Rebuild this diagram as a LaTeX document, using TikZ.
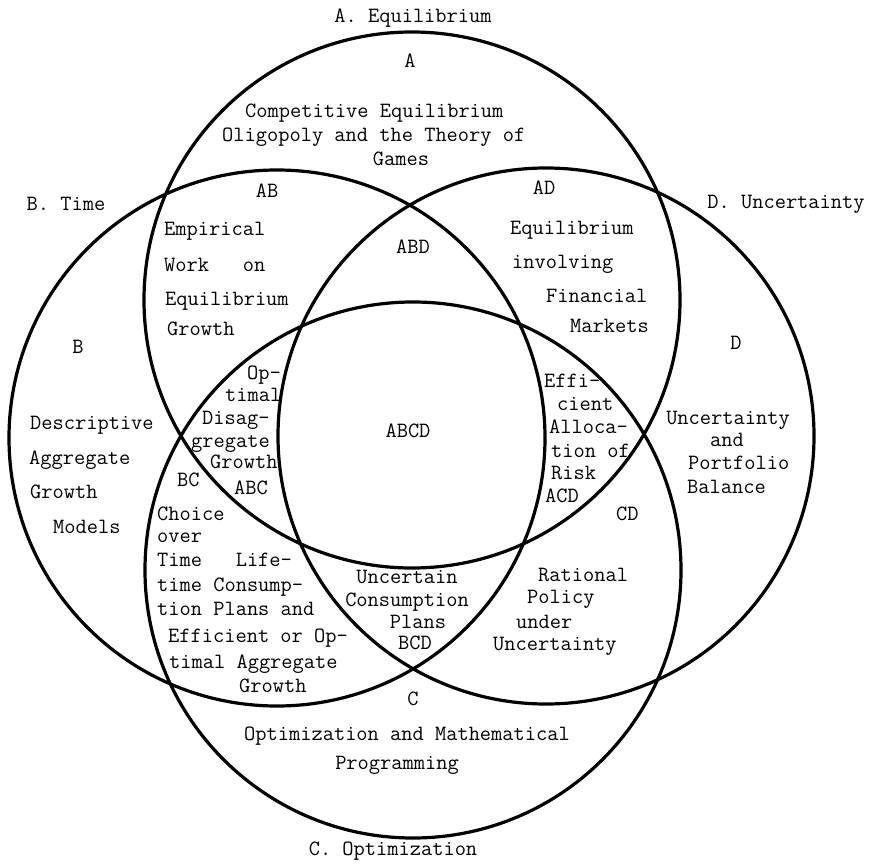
\documentclass[tikz,border=0pt]{standalone}
\usepackage{fontspec}
\begin{document}
\begin{tikzpicture}[x=1pt, y=-1pt,
    ring/.style={line width=3.2pt},
    txt/.style={font=\ttfamily\fontsize{21.8}{26}\selectfont, inner sep=0pt, anchor=base west},
    mid/.style={txt, anchor=base}]
    \useasboundingbox (0,0) rectangle (876,864);
    % centres of the four sets
    \coordinate (cA) at (412,300);
    \coordinate (cB) at (277,438);
    \coordinate (cC) at (413,570);
    \coordinate (cD) at (546,436);
    \draw [ring] (cA) circle (268pt);
    \draw [ring] (cB) circle (268pt);
    \draw [ring] (cC) circle (268pt);
    \draw [ring] (cD) circle (268pt);
    % set titles
    \node [mid] (titleA) at (413,23) {A. Equilibrium};
    \node [mid] (titleB) at (66,211) {B. Time};
    \node [mid] (titleD) at (786,208) {D. Uncertainty};
    \node [mid] (titleC) at (393,855) {C. Optimization};
    % A only
    \node [mid] (labA) at (410,68) {A};
    \node [txt] (a1) at (245,118) {Competitive Equilibrium};
    \node [txt] (a2) at (222,142) {Oligopoly and the Theory of};
    \node [mid] (a3) at (401,166) {Games};
    % AB
    \node [mid] (labAB) at (267,197) {AB};
    \node [txt] (ab1) at (164,236) {Empirical};
    \node [txt] (ab2) at (164,271) {Work\ \ \ on};
    \node [txt] (ab3) at (165,305) {Equilibrium};
    \node [txt] (ab4) at (167,335) {Growth};
    % AD
    \node [mid] (labAD) at (544,195) {AD};
    \node [txt] (ad1) at (510,234) {Equilibrium};
    \node [txt] (ad2) at (512,268) {involving};
    \node [txt] (ad3) at (546,302) {Financial};
    \node [txt] (ad4) at (570,332) {Markets};
    % ABD
    \node [mid] (labABD) at (413,253) {ABD};
    % B only
    \node [mid] (labB) at (78,353) {B};
    \node [txt] (b1) at (30,429) {Descriptive};
    \node [txt] (b2) at (29,464) {Aggregate};
    \node [txt] (b3) at (30,498) {Growth};
    \node [txt] (b4) at (53,533) {Models};
    % D only
    \node [mid] (labD) at (736,349) {D};
    \node [mid] (d1) at (728,424) {Uncertainty};
    \node [mid] (d2) at (727,446) {and};
    \node [txt] (d3) at (688,469) {Portfolio};
    \node [txt] (d4) at (687,493) {Balance};
    % ABC
    \node [txt] (abc1) at (247,379) {Op-};
    \node [txt] (abc2) at (225,401) {timal};
    \node [txt] (abc3) at (202,424) {Disag-};
    \node [txt] (abc4) at (191,447) {gregate};
    \node [txt] (abc5) at (210,468) {Growth};
    \node [txt] (labABC) at (234,494) {ABC};
    % ABCD
    \node [mid] (labABCD) at (408,437) {ABCD};
    % ACD
    \node [txt] (acd1) at (544,387) {Effi-};
    \node [txt] (acd2) at (557,410) {cient};
    \node [txt] (acd3) at (549,433) {Alloca-};
    \node [txt] (acd4) at (551,457) {tion of};
    \node [txt] (acd5) at (551,479) {Risk};
    \node [txt] (labACD) at (545,502) {ACD};
    % BC
    \node [txt] (labBC) at (177,486) {BC};
    \node [txt] (bc1) at (157,520) {Choice};
    \node [txt] (bc2) at (157,542) {over};
    \node [txt] (bc3) at (157,566) {Time\ \ \ Life-};
    \node [txt] (bc4) at (157,591) {time Consump-};
    \node [txt] (bc5) at (157,615) {tion Plans and};
    \node [txt] (bc6) at (168,642) {Efficient or Op-};
    \node [txt] (bc7) at (169,668) {timal Aggregate};
    \node [txt] (bc8) at (239,692) {Growth};
    % CD
    \node [txt] (labCD) at (616,520) {CD};
    \node [txt] (cd1) at (538,581) {Rational};
    \node [txt] (cd2) at (527,603) {Policy};
    \node [txt] (cd3) at (516,628) {under};
    \node [txt] (cd4) at (493,650) {Uncertainty};
    % BCD
    \node [mid] (bcd1) at (407,583) {Uncertain};
    \node [mid] (bcd2) at (407,606) {Consumption};
    \node [mid] (bcd3) at (418,628) {Plans};
    \node [mid] (labBCD) at (415,649) {BCD};
    % C only
    \node [mid] (labC) at (413,705) {C};
    \node [mid] (c1) at (407,740) {Optimization and Mathematical};
    \node [mid] (c2) at (397,769) {Programming};
\end{tikzpicture}
\end{document}
